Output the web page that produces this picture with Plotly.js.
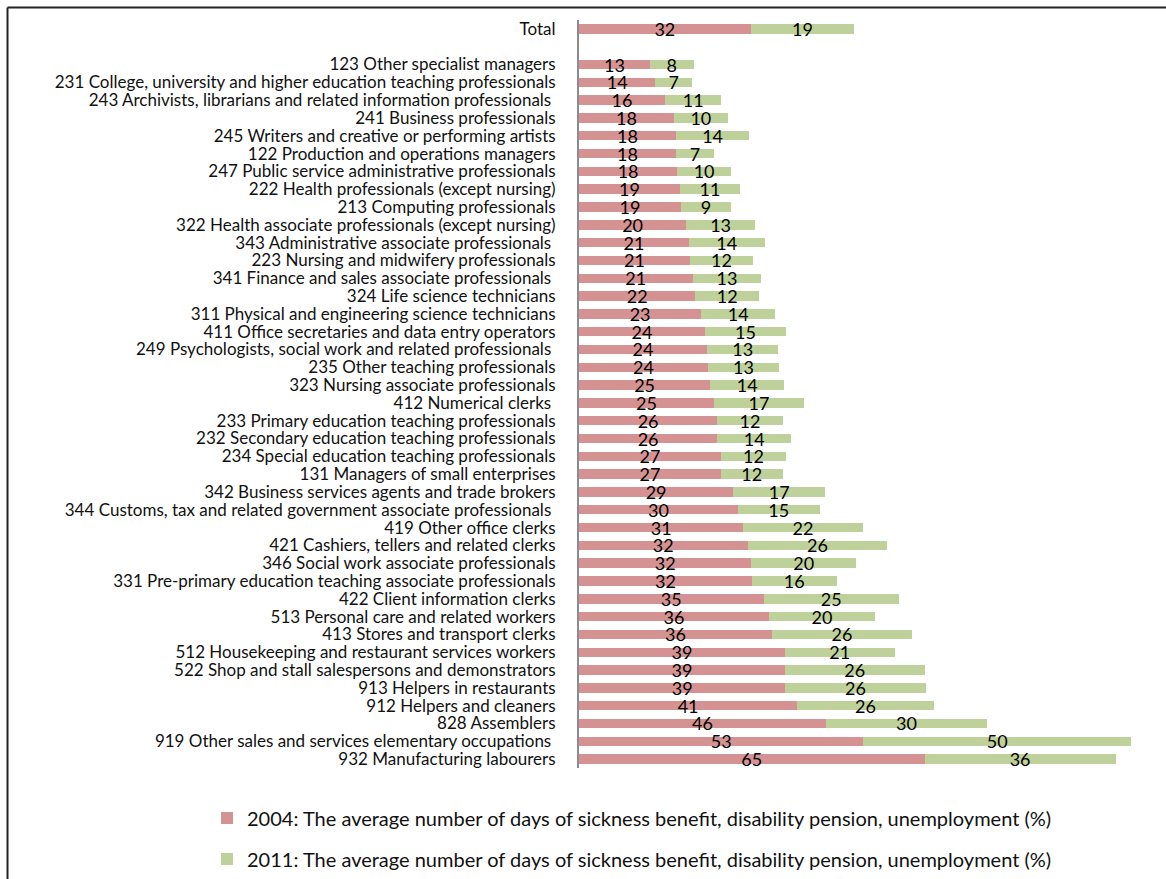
<!DOCTYPE html>
<html>
<head>
<meta charset="utf-8">
<script src="https://cdn.plot.ly/plotly-3.0.1.min.js"></script>
<style>
html, body { margin: 0; padding: 0; background: #ffffff; }
#chart { width: 1166px; height: 879px; }
</style>
</head>
<body>
<div id="chart"></div>
<script>
// ---- data ----
const NB = "\u00a0";
const categories = [
  "Total",
  NB,
  "123 Other specialist managers",
  "231 College, university and higher education teaching professionals",
  "243 Archivists, librarians and related information professionals" + NB,
  "241 Business professionals",
  "245 Writers and creative or performing artists",
  "122 Production and operations managers",
  "247 Public service administrative professionals",
  "222 Health professionals (except nursing)",
  "213 Computing professionals",
  "322 Health associate professionals (except nursing)",
  "343 Administrative associate professionals" + NB,
  "223 Nursing and midwifery professionals",
  "341 Finance and sales associate professionals" + NB,
  "324 Life science technicians",
  "311 Physical and engineering science technicians",
  "411 Office secretaries and data entry operators",
  "249 Psychologists, social work and related professionals" + NB,
  "235 Other teaching professionals",
  "323 Nursing associate professionals",
  "412 Numerical clerks" + NB,
  "233 Primary education teaching professionals",
  "232 Secondary education teaching professionals",
  "234 Special education teaching professionals",
  "131 Managers of small enterprises",
  "342 Business services agents and trade brokers",
  "344 Customs, tax and related government associate professionals" + NB,
  "419 Other office clerks",
  "421 Cashiers, tellers and related clerks",
  "346 Social work associate professionals",
  "331 Pre-primary education teaching associate professionals",
  "422 Client information clerks",
  "513 Personal care and related workers",
  "413 Stores and transport clerks",
  "512 Housekeeping and restaurant services workers",
  "522 Shop and stall salespersons and demonstrators",
  "913 Helpers in restaurants",
  "912 Helpers and cleaners",
  "828 Assemblers",
  "919 Other sales and services elementary occupations" + NB,
  "932 Manufacturing labourers"
];

const values2004 = [
  32.2, null,
  13.3, 14.3, 16.1, 17.8, 18.2, 18.2, 18.4, 18.9, 19.1, 20.1,
  20.6, 20.8, 21.3, 21.8, 22.9, 23.6, 24.0, 24.2, 24.6, 25.3,
  25.9, 25.9, 26.6, 26.6, 28.9, 29.8, 30.8, 31.6, 32.3, 32.4,
  34.6, 35.6, 36.2, 38.6, 38.6, 38.7, 40.9, 46.3, 53.3, 64.8
];

const values2011 = [
  19.4, null,
  8.2, 6.9, 10.6, 10.1, 13.7, 7.1, 10.1, 11.3, 9.4, 12.9,
  14.2, 11.8, 12.9, 12.0, 13.9, 15.2, 13.4, 13.3, 13.9, 16.9,
  12.3, 13.9, 12.2, 11.6, 17.3, 15.3, 22.4, 26.2, 19.7, 15.9,
  25.4, 19.9, 26.2, 20.6, 26.2, 26.3, 25.6, 30.2, 50.2, 35.8
];

const seriesNames = [
  "2004: The average number of days of sickness benefit, disability pension, unemployment (%)",
  "2011: The average number of days of sickness benefit, disability pension, unemployment (%)"
];

// ---- layout geometry ----
const W = 1166, H = 879;
const M = { l: 579, r: 11, t: 20, b: 111, autoexpand: false };
const plotW = W - M.l - M.r;
const plotH = H - M.t - M.b;
const px2x = p => (p - M.l) / plotW;
const py2y = p => (H - M.b - p) / plotH;

const FONT = "Lato, 'Open Sans', sans-serif";
const RED = "#D49392";
const GREEN = "#BFD19A";

function barTrace(vals, name, color, legendId) {
  return {
    type: "bar",
    orientation: "h",
    y: categories,
    x: vals,
    name: name,
    legend: legendId,
    marker: { color: color, line: { width: 0 } },
    texttemplate: "%{x:.0f}",
    textposition: "inside",
    insidetextanchor: "middle",
    constraintext: "none",
    textangle: 0,
    insidetextfont: { family: FONT, size: 18, color: "#000000" },
    hoverinfo: "x+y+name"
  };
}

const data = [
  barTrace(values2004, seriesNames[0], RED, "legend"),
  barTrace(values2011, seriesNames[1], GREEN, "legend2")
];

const legendCommon = {
  xanchor: "left", yanchor: "middle",
  font: { family: FONT, size: 20, color: "#111111" },
  bgcolor: "rgba(0,0,0,0)", borderwidth: 0
};

const layout = {
  width: W, height: H,
  margin: M,
  paper_bgcolor: "#ffffff",
  plot_bgcolor: "#ffffff",
  barmode: "stack",
  bargap: 0.47,
  showlegend: true,
  font: { family: FONT, color: "#111111" },
  xaxis: {
    range: [0, 108],
    visible: false,
    showgrid: false,
    zeroline: false,
    fixedrange: true
  },
  yaxis: {
    type: "category",
    categoryorder: "array",
    categoryarray: categories,
    tickmode: "array",
    tickvals: categories,
    ticktext: categories,
    autorange: "reversed",
    showline: true,
    linecolor: "#8c8c8c",
    linewidth: 2,
    ticks: "",
    ticklabelstandoff: 18,
    tickfont: { family: FONT, size: 17, color: "#111111" },
    showgrid: false,
    zeroline: false,
    automargin: false,
    fixedrange: true
  },
  legend: Object.assign({}, legendCommon, { x: px2x(207), y: py2y(818) }),
  legend2: Object.assign({}, legendCommon, { x: px2x(207), y: py2y(859) }),
  shapes: [
    { type: "line", xref: "paper", yref: "paper",
      x0: px2x(7.5), x1: px2x(1200), y0: py2y(7.5), y1: py2y(7.5),
      line: { color: "#222222", width: 2 } },
    { type: "line", xref: "paper", yref: "paper",
      x0: px2x(7.5), x1: px2x(7.5), y0: py2y(7.5), y1: py2y(900),
      line: { color: "#222222", width: 2 } }
  ]
};

Plotly.newPlot("chart", data, layout, { staticPlot: true, displayModeBar: false });
</script>
</body>
</html>
